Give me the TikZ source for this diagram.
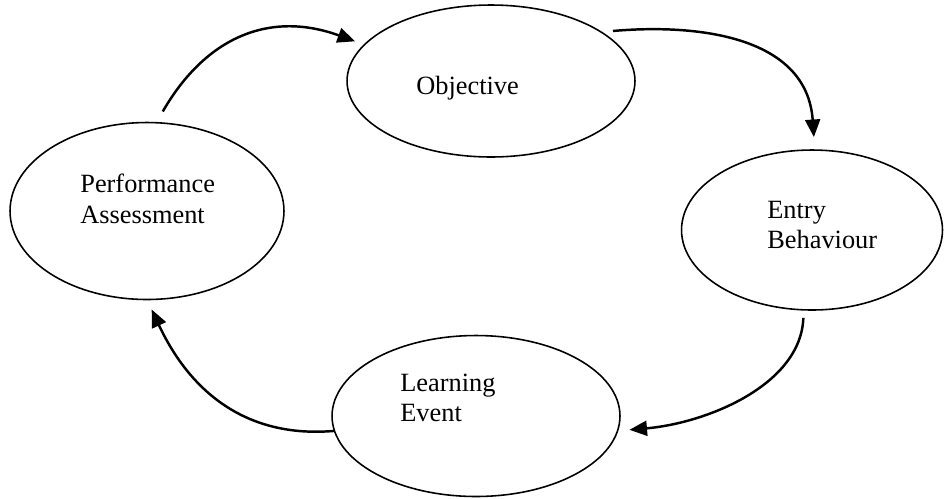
\documentclass[tikz,border=0pt]{standalone}
\usepackage{fontspec}
\setmainfont{Liberation Serif}
\usepackage{tikz}
\usetikzlibrary{arrows.meta,shapes.geometric}
\tikzset{
  stage/.style={ellipse, draw, line width=0.9pt, inner sep=0pt, outer sep=0pt},
  stagetext/.style={anchor=west, align=left, inner sep=0pt,
    font=\fontsize{15}{17.5}\selectfont},
  cyc/.style={-{Triangle[length=10pt,width=8.5pt]}, line width=1.4pt}
}

\begin{document}
\begin{tikzpicture}[x=0.02cm, y=0.02cm]
            \useasboundingbox (0,0) rectangle (945,-498);

            % The four stages
            \node[stage, minimum width=5.76cm, minimum height=3.04cm] (obj) at (491,-81) {};
            \node[stage, minimum width=5.22cm, minimum height=3.2cm] (eb) at (812,-230) {};
            \node[stage, minimum width=5.76cm, minimum height=3.22cm] (le) at (476,-416) {};
            \node[stage, minimum width=5.48cm, minimum height=3.54cm] (pa) at (147,-211) {};

            % Labels (left aligned, set a bit off centre)
            \node[stagetext] (objtext) at (416,-88) {Objective};
            \node[stagetext] (ebtext) at (767,-225) {Entry\\Behaviour};
            \node[stagetext] (letext) at (400,-398) {Learning\\Event};
            \node[stagetext] (patext) at (80,-199) {Performance\\Assessment};

            % Arrows round the cycle
            \draw[cyc, shorten <=0.26cm, shorten >=0.2cm] (pa.84) to[out=60, in=160, out distance=2cm, in distance=2cm] (obj.164);
            \draw[cyc, shorten <=0.24cm, shorten >=0.26cm] (obj.24) to[out=5, in=94, out distance=1.9cm, in distance=2.3cm] (eb.88);
            \draw[cyc, shorten <=0.16cm, shorten >=0.24cm] (eb.264) to[out=268, in=5, out distance=1.5cm, in distance=1.8cm] (le.354);
            \draw[cyc, shorten >=0.22cm] (le.186) to[out=185, in=295, out distance=1.8cm, in distance=2cm] (pa.270);
        \end{tikzpicture}
\end{document}
